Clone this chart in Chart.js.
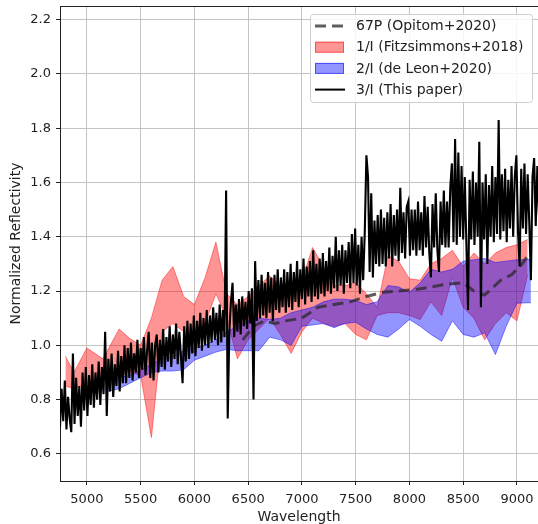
<!DOCTYPE html>
<html>
<head>
<meta charset="utf-8">
<script src="https://cdn.jsdelivr.net/npm/chart.js@4.4.1/dist/chart.umd.min.js"></script>
<style>
html, body { margin: 0; padding: 0; background: #fff; }
#wrap { width: 538px; height: 524px; }
</style>
</head>
<body>
<div id="wrap"><canvas id="graph" width="538" height="524"></canvas></div>
<script>
var xTicks = [5000, 5500, 6000, 6500, 7000, 7500, 8000, 8500, 9000];
var yTicks = [0.6, 0.8, 1.0, 1.2, 1.4, 1.6, 1.8, 2.0, 2.2];

// 3/I spectrum, one value every 15 A starting at 4750 A
var specStart = 4750;
var specStep = 15;
var specFlux = [
    0.70, 0.84, 0.72, 0.87, 0.69, 0.81, 0.73, 0.68, 0.97, 0.71, 0.88, 0.74, 0.85, 0.70, 0.90, 0.76, 0.92, 0.74, 0.89, 0.78,
    0.93, 0.77, 0.90, 0.80, 0.94, 0.78, 0.92, 0.82, 1.05, 0.74, 0.95, 0.83, 0.97, 0.81, 0.93, 0.85, 0.98, 0.83, 0.96, 0.86,
    1.00, 0.86, 0.99, 0.88, 1.01, 0.87, 0.97, 0.90, 1.02, 0.88, 0.99, 0.91, 1.03, 0.89, 0.98, 1.05, 0.88, 1.01, 0.87, 1.00,
    1.04, 0.90, 1.02, 0.92, 1.06, 0.91, 1.03, 0.94, 1.07, 0.92, 1.04, 0.95, 1.08, 0.93, 1.05, 0.96, 0.86, 1.07, 0.94, 1.09,
    0.95, 1.08, 0.97, 1.11, 0.96, 1.09, 0.99, 1.12, 0.98, 1.10, 1.00, 1.13, 0.99, 1.11, 1.01, 1.14, 1.02, 1.12, 1.00, 1.15,
    1.01, 1.13, 1.03, 1.57, 0.73, 1.05, 1.16, 1.23, 1.03, 1.15, 1.05, 1.17, 1.04, 1.18, 1.07, 1.16, 1.06, 1.20, 1.08, 1.21,
    0.80, 1.31, 1.09, 1.24, 1.10, 1.26, 1.11, 1.23, 1.10, 1.27, 1.12, 1.25, 1.09, 1.26, 1.13, 1.28, 1.12, 1.25, 1.14, 1.28,
    1.12, 1.27, 1.14, 1.30, 1.13, 1.27, 1.16, 1.31, 1.14, 1.28, 1.17, 1.32, 1.15, 1.29, 1.18, 1.31, 1.16, 1.35, 1.18, 1.30,
    1.17, 1.32, 1.19, 1.34, 1.18, 1.31, 1.20, 1.36, 1.19, 1.33, 1.21, 1.40, 1.20, 1.35, 1.22, 1.37, 1.19, 1.35, 1.23, 1.38,
    1.21, 1.41, 1.23, 1.43, 1.22, 1.37, 1.19, 1.40, 1.24, 1.42, 1.70, 1.62, 1.27, 1.56, 1.25, 1.46, 1.30, 1.48, 1.29, 1.50,
    1.30, 1.47, 1.29, 1.49, 1.32, 1.52, 1.29, 1.48, 1.33, 1.50, 1.31, 1.58, 1.34, 1.49, 1.32, 1.51, 1.53, 1.33, 1.50, 1.35,
    1.50, 1.33, 1.53, 1.35, 1.49, 1.33, 1.55, 1.36, 1.51, 1.34, 1.25, 1.52, 1.36, 1.56, 1.35, 1.27, 1.53, 1.37, 1.57, 1.36,
    1.53, 1.36, 1.58, 1.67, 1.38, 1.76, 1.37, 1.71, 1.40, 1.66, 1.39, 1.62, 1.37, 1.13, 1.61, 1.39, 1.64, 1.37, 1.60, 1.40,
    1.75, 1.14, 1.60, 1.39, 1.63, 1.30, 1.59, 1.40, 1.66, 1.38, 1.62, 1.41, 1.83, 1.39, 1.63, 1.42, 1.65, 1.38, 1.61, 1.43,
    1.66, 1.40, 1.62, 1.70, 1.42, 1.29, 1.65, 1.43, 1.67, 1.41, 1.63, 1.45, 1.24, 1.62, 1.69, 1.44, 1.66, 1.48
];

// 1/I range (Fitzsimmons+2018)
var fitzWave = [4800, 4880, 5000, 5150, 5300, 5400, 5500, 5600, 5700, 5800, 5900, 6000, 6100, 6200, 6300, 6400, 6500, 6600, 6700, 6800, 6900,
    7000, 7100, 7200, 7300, 7400, 7500, 7600, 7700, 7800, 7900, 8000, 8100, 8200, 8300, 8400, 8500, 8600, 8700, 8800, 8900, 9000, 9100];
var fitzHigh = [0.96, 0.90, 0.99, 0.95, 1.06, 1.025, 1.00, 1.10, 1.24, 1.29, 1.18, 1.15, 1.25, 1.38, 1.19, 1.15, 1.18, 1.22, 1.255, 1.22, 1.23,
    1.24, 1.36, 1.29, 1.22, 1.22, 1.23, 1.19, 1.14, 1.33, 1.31, 1.245, 1.24, 1.30, 1.32, 1.35, 1.29, 1.34, 1.30, 1.34, 1.36, 1.37, 1.39];
var fitzLow = [0.85, 0.84, 0.86, 0.88, 0.89, 0.90, 0.89, 0.66, 1.05, 1.08, 1.05, 0.97, 1.08, 1.19, 1.10, 0.95, 1.02, 1.06, 1.10, 1.04, 0.97,
    1.05, 1.10, 1.08, 1.07, 1.08, 1.04, 1.02, 1.11, 1.12, 1.12, 1.11, 1.095, 1.16, 1.11, 1.25, 1.14, 1.10, 1.02, 1.08, 1.12, 1.09, 1.26];

// 2/I range (de Leon+2020)
var leonWave = [5200, 5300, 5400, 5500, 5600, 5700, 5800, 5900, 6000, 6100, 6200, 6300, 6400, 6500, 6600, 6700, 6800, 6900,
    7000, 7100, 7200, 7300, 7400, 7500, 7600, 7700, 7800, 7900, 8000, 8100, 8200, 8300, 8400, 8500, 8600, 8700, 8800, 8900, 9000, 9130];
var leonHigh = [0.86, 0.88, 0.89, 0.91, 0.93, 0.95, 0.96, 0.98, 0.99, 1.00, 1.02, 1.05, 1.07, 1.09, 1.10, 1.095, 1.10, 1.12,
    1.13, 1.14, 1.16, 1.17, 1.17, 1.165, 1.15, 1.16, 1.22, 1.215, 1.195, 1.23, 1.28, 1.27, 1.28, 1.31, 1.315, 1.32, 1.305, 1.31, 1.315, 1.316];
var leonLow = [0.83, 0.84, 0.86, 0.88, 0.90, 0.905, 0.905, 0.91, 0.945, 0.96, 0.975, 0.985, 0.98, 0.98, 0.98, 1.03, 1.02, 1.00,
    1.07, 1.075, 1.08, 1.065, 1.08, 1.085, 1.06, 1.04, 1.03, 1.06, 1.095, 1.07, 1.04, 1.015, 1.09, 1.04, 1.03, 1.046, 0.966, 1.07, 1.155, 1.157];

// 67P (Opitom+2020)
var opitomWave = [6450, 6550, 6650, 6750, 6850, 7000, 7150, 7300, 7450, 7600, 7750, 7900, 8050, 8200, 8350, 8500, 8600, 8700, 8850, 8950, 9050, 9100];
var opitomFlux = [1.02, 1.07, 1.09, 1.08, 1.09, 1.10, 1.14, 1.15, 1.16, 1.18, 1.195, 1.20, 1.205, 1.215, 1.225, 1.23, 1.20, 1.185, 1.24, 1.26, 1.30, 1.33];

var g_textColor = "#222222";
var g_fontFamily = "'DejaVu Sans', sans-serif";

function toPoints(xs, ys) {
    var pts = [];
    for (var i = 0; i < ys.length; i++) {
        pts.push({ x: xs[i], y: ys[i] });
    }
    return pts;
}

function spectrumPoints() {
    var pts = [];
    for (var i = 0; i < specFlux.length; i++) {
        pts.push({ x: specStart + i * specStep, y: specFlux[i] });
    }
    return pts;
}

// matplotlib-style legend box sitting inside the plot area
var legendEntries = [
    { label: "67P (Opitom+2020)", kind: "dash", color: "rgba(40,40,40,0.75)" },
    { label: "1/I (Fitzsimmons+2018)", kind: "patch", color: "rgba(255,0,0,0.42)", edge: "rgba(255,0,0,0.5)" },
    { label: "2/I (de Leon+2020)", kind: "patch", color: "rgba(0,0,255,0.42)", edge: "rgba(0,0,255,0.5)" },
    { label: "3/I (This paper)", kind: "line", color: "#000000" }
];

var boxLegend = {
    id: "boxLegend",
    afterDraw: function (chart) {
        var ctx = chart.ctx;
        var area = chart.chartArea;
        ctx.save();
        // top spine
        ctx.strokeStyle = "#222";
        ctx.lineWidth = 1;
        ctx.beginPath();
        ctx.moveTo(area.left, area.top + 0.5);
        ctx.lineTo(area.right, area.top + 0.5);
        ctx.stroke();

        var bx = 310, by = 14, bw = 222, bh = 88;
        ctx.fillStyle = "rgba(255,255,255,0.85)";
        ctx.strokeStyle = "#d0d0d0";
        ctx.beginPath();
        ctx.roundRect(bx + 0.5, by + 0.5, bw, bh, 3);
        ctx.fill();
        ctx.stroke();

        ctx.font = "14px " + g_fontFamily;
        ctx.textBaseline = "middle";
        for (var i = 0; i < legendEntries.length; i++) {
            var e = legendEntries[i];
            var cy = 26 + i * 21.2;
            if (e.kind === "patch") {
                ctx.fillStyle = e.color;
                ctx.strokeStyle = e.edge;
                ctx.fillRect(315, cy - 5.5, 29, 11);
                ctx.strokeRect(315.5, cy - 5, 28, 10);
            } else {
                ctx.strokeStyle = e.color;
                ctx.lineWidth = e.kind === "dash" ? 3 : 2;
                ctx.setLineDash(e.kind === "dash" ? [11, 6] : []);
                ctx.beginPath();
                ctx.moveTo(315, cy);
                ctx.lineTo(345, cy);
                ctx.stroke();
                ctx.setLineDash([]);
                ctx.lineWidth = 1;
            }
            ctx.fillStyle = g_textColor;
            ctx.fillText(e.label, 356, cy + 0.5);
        }
        ctx.restore();
    }
};

var ctx = document.getElementById("graph").getContext("2d");
var g_chart = new Chart(ctx, {
    type: "line",
    data: {
        datasets: [
            {
                label: "3/I (This paper)",
                data: spectrumPoints(),
                borderColor: "#000000",
                borderWidth: 2.1,
                pointRadius: 0,
                fill: false,
                order: 0
            },
            {
                label: "67P (Opitom+2020)",
                data: toPoints(opitomWave, opitomFlux),
                borderColor: "rgba(40,40,40,0.75)",
                borderWidth: 3,
                borderDash: [11, 6],
                pointRadius: 0,
                fill: false,
                order: 1
            },
            {
                label: "2/I (de Leon+2020)",
                data: toPoints(leonWave, leonHigh),
                borderColor: "rgba(0,0,255,0.45)",
                backgroundColor: "rgba(0,0,255,0.42)",
                borderWidth: 1,
                pointRadius: 0,
                fill: "+1",
                order: 2
            },
            {
                label: "2/I low",
                data: toPoints(leonWave, leonLow),
                borderColor: "rgba(0,0,255,0.45)",
                borderWidth: 1,
                pointRadius: 0,
                fill: false,
                order: 2
            },
            {
                label: "1/I (Fitzsimmons+2018)",
                data: toPoints(fitzWave, fitzHigh),
                borderColor: "rgba(255,0,0,0.45)",
                backgroundColor: "rgba(255,0,0,0.42)",
                borderWidth: 1,
                pointRadius: 0,
                fill: "+1",
                order: 3
            },
            {
                label: "1/I low",
                data: toPoints(fitzWave, fitzLow),
                borderColor: "rgba(255,0,0,0.45)",
                borderWidth: 1,
                pointRadius: 0,
                fill: false,
                order: 3
            }
        ]
    },
    options: {
        responsive: false,
        animation: false,
        devicePixelRatio: 1,
        events: [],
        layout: { padding: { top: 6, left: 0, right: 0, bottom: 0 } },
        plugins: {
            legend: { display: false },
            tooltip: { enabled: false }
        },
        scales: {
            x: {
                type: "linear",
                min: 4750,
                max: 9196,
                afterBuildTicks: function (scale) {
                    scale.ticks = xTicks.map(function (v) { return { value: v }; });
                },
                afterFit: function (scale) {
                    scale.height = 43;
                    scale.paddingLeft = 0;
                    scale.paddingRight = 0;
                },
                grid: { color: "#c4c4c4", lineWidth: 1, tickLength: 4, tickColor: "#222", tickWidth: 1 },
                border: { display: true, color: "#222", width: 1 },
                ticks: {
                    autoSkip: false, maxRotation: 0, padding: 7, color: g_textColor,
                    font: { family: g_fontFamily, size: 13 },
                    callback: function (v) { return String(v); }
                },
                title: {
                    display: true, text: "Wavelength", color: g_textColor,
                    font: { family: g_fontFamily, size: 14, lineHeight: 1.0 },
                    padding: { top: 0, bottom: 0 }
                }
            },
            y: {
                type: "linear",
                min: 0.5,
                max: 2.25,
                afterBuildTicks: function (scale) {
                    scale.ticks = yTicks.map(function (v) { return { value: v }; });
                },
                afterFit: function (scale) {
                    scale.width = 60;
                    scale.paddingTop = 0;
                    scale.paddingBottom = 0;
                },
                grid: { color: "#c4c4c4", lineWidth: 1, tickLength: 4, tickColor: "#222", tickWidth: 1 },
                border: { display: true, color: "#222", width: 1 },
                ticks: {
                    padding: 5, color: g_textColor,
                    font: { family: g_fontFamily, size: 13 },
                    callback: function (v) { return v.toFixed(1); }
                },
                title: {
                    display: true, text: "Normalized Reflectivity", color: g_textColor,
                    font: { family: g_fontFamily, size: 14, lineHeight: 1.0 },
                    padding: { top: 9, bottom: 0 }
                }
            }
        }
    },
    plugins: [boxLegend]
});
</script>
</body>
</html>
